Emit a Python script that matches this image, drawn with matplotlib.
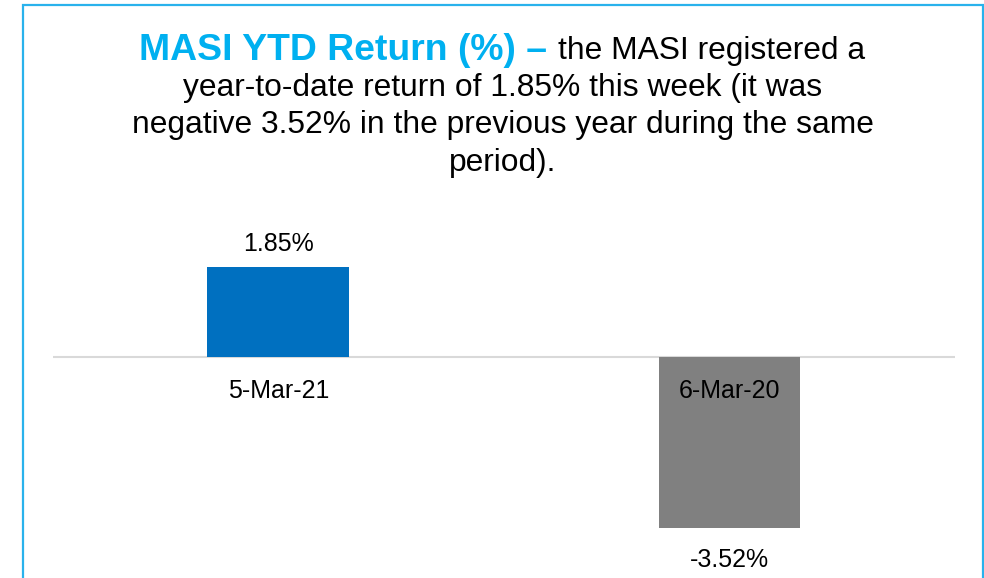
import matplotlib
matplotlib.use("Agg")
import matplotlib.pyplot as plt
from matplotlib.patches import Rectangle

plt.rcParams['font.family'] = ['Liberation Sans', 'DejaVu Sans']

# Data
dates = ['5-Mar-21', '6-Mar-20']
returns = [1.85, -3.52]
bar_colors = ['#0070C0', '#808080']

title_bold = 'MASI YTD Return (%) \u2013'
title_rest = 'the MASI registered a'
title_lines = ['year-to-date return of 1.85% this week (it was',
               'negative 3.52% in the previous year during the same',
               'period).']

W, H = 984, 578
fig = plt.figure(figsize=(W / 100, H / 100), dpi=100)

# light blue frame (bottom runs off the picture)
fig.patches.append(Rectangle((22.5 / W, -0.05), 960 / W, (H - 5.5) / H + 0.05,
                             transform=fig.transFigure, fill=False,
                             edgecolor='#29B2EC', linewidth=1.6))

# title, first line has a bold coloured lead-in
cx = 502.5
t1 = fig.text(0, 1 - 59.5 / H, title_bold, fontsize=26.9, fontweight='bold',
              color='#00B0F0', va='baseline', ha='left')
t2 = fig.text(0, 1 - 59.5 / H, title_rest, fontsize=22.9, color='black',
              va='baseline', ha='left')
fig.canvas.draw()
r = fig.canvas.get_renderer()
w1 = t1.get_window_extent(r).width
w2 = t2.get_window_extent(r).width
gap = 11
x0 = cx - (w1 + gap + w2) / 2
t1.set_x(x0 / W)
t2.set_x((x0 + w1 + gap) / W)

for i, line in enumerate(title_lines):
    fig.text(cx / W, 1 - (95.7 + 37.4 * i) / H, line, fontsize=22.9,
             color='black', ha='center', va='baseline')

# chart area
ax = fig.add_axes([52.7 / W, (H - 551.5) / H, (955 - 52.7) / W, 316.5 / H])
x = range(len(dates))
bars = ax.bar(x, returns, width=0.314, color=bar_colors, zorder=2)
ax.axhline(0, color='#D9D9D9', linewidth=1.5, zorder=1)
ax.set_xlim(-0.5, 1.5)
ax.set_ylim(-4, 2.5)
ax.axis('off')

for i, v in enumerate(returns):
    off = 16 if v > 0 else -38.5
    ax.annotate(f'{v:.2f}%', (i, v), xytext=(0, off), textcoords='offset pixels',
                ha='center', va='baseline', fontsize=18, annotation_clip=False)
    ax.annotate(dates[i], (i, 0), xytext=(0, -41.3), textcoords='offset pixels',
                ha='center', va='baseline', fontsize=18, zorder=3,
                annotation_clip=False)

fig.savefig('out.png', dpi=100)
